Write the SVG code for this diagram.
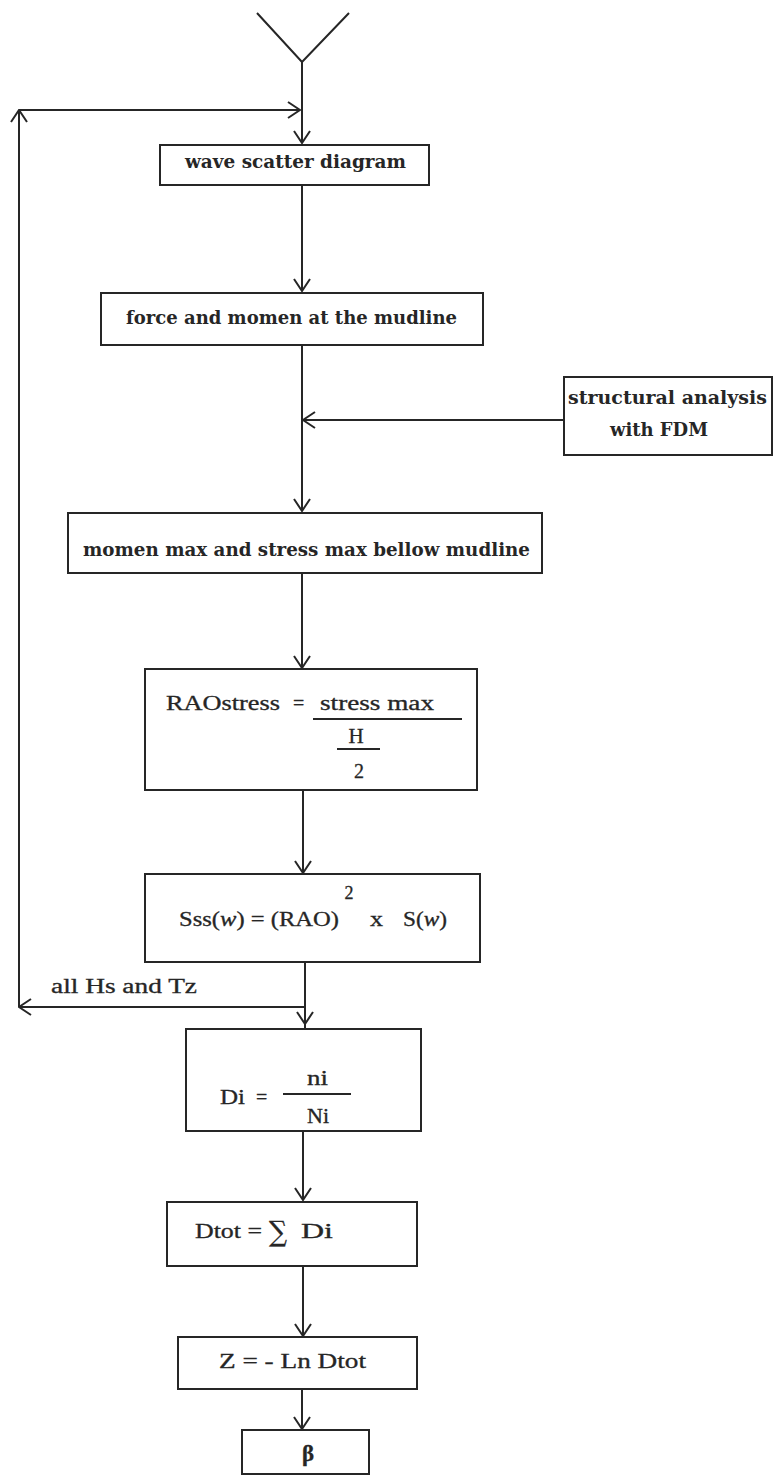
<svg xmlns="http://www.w3.org/2000/svg" width="774" height="1478" viewBox="0 0 774 1478">
  <defs>
    <style>
      .box { fill: #ffffff; stroke: #262626; stroke-width: 2; }
      .wire { fill: none; stroke: #262626; stroke-width: 2; }
      .lbl { font-family: "DejaVu Serif", "Liberation Serif", serif; font-weight: bold; font-size: 18px; fill: #262626; }
      .eq { font-family: "Liberation Serif", "DejaVu Serif", serif; font-size: 20px; fill: #262626; stroke: #262626; stroke-width: 0.3; }
      .frac { stroke: #262626; stroke-width: 2; }
    </style>
    <marker id="arrow" viewBox="0 0 14 18" markerWidth="14" markerHeight="18" refX="13" refY="9" orient="auto" markerUnits="userSpaceOnUse">
      <path d="M1,1 L13,9 L1,17" fill="none" stroke="#262626" stroke-width="2"/>
    </marker>
  </defs>
  <rect width="774" height="1478" fill="#ffffff"/>

  <g id="connectors">
    <!-- inlet funnel -->
    <polyline class="wire" points="257,13 302,62 349,13"/>
    <line class="wire" x1="302" y1="62" x2="302" y2="143" marker-end="url(#arrow)"/>
    <!-- return loop over all Hs and Tz -->
    <line class="wire" x1="305" y1="1007" x2="19" y2="1007" marker-end="url(#arrow)"/>
    <line class="wire" x1="19" y1="1007" x2="19" y2="110" marker-end="url(#arrow)"/>
    <line class="wire" x1="19" y1="110" x2="300" y2="110" marker-end="url(#arrow)"/>
    <!-- main flow -->
    <line class="wire" x1="302" y1="185" x2="302" y2="291" marker-end="url(#arrow)"/>
    <line class="wire" x1="302" y1="345" x2="302" y2="511" marker-end="url(#arrow)"/>
    <line class="wire" x1="564" y1="420" x2="303" y2="420" marker-end="url(#arrow)"/>
    <line class="wire" x1="302" y1="573" x2="302" y2="668" marker-end="url(#arrow)"/>
    <line class="wire" x1="303" y1="790" x2="303" y2="873" marker-end="url(#arrow)"/>
    <line class="wire" x1="305" y1="962" x2="305" y2="1024" marker-end="url(#arrow)"/>
    <line class="wire" x1="305" y1="1024" x2="305" y2="1029"/>
    <line class="wire" x1="303" y1="1131" x2="303" y2="1200" marker-end="url(#arrow)"/>
    <line class="wire" x1="303" y1="1266" x2="303" y2="1336" marker-end="url(#arrow)"/>
    <line class="wire" x1="302" y1="1389" x2="302" y2="1429" marker-end="url(#arrow)"/>
    <text class="eq" x="51" y="993" textLength="146" lengthAdjust="spacingAndGlyphs">all Hs and Tz</text>
  </g>

  <g id="wave-scatter">
    <rect class="box" x="160" y="145" width="269" height="40"/>
    <text class="lbl" x="185" y="168" textLength="221" lengthAdjust="spacingAndGlyphs">wave scatter diagram</text>
  </g>

  <g id="force-momen">
    <rect class="box" x="101" y="293" width="382" height="52"/>
    <text class="lbl" x="126" y="324" textLength="331" lengthAdjust="spacingAndGlyphs">force and momen at the mudline</text>
  </g>

  <g id="structural-analysis">
    <rect class="box" x="564" y="377" width="208" height="78"/>
    <text class="lbl" x="568" y="404" textLength="199" lengthAdjust="spacingAndGlyphs">structural analysis</text>
    <text class="lbl" x="610" y="436" textLength="98" lengthAdjust="spacingAndGlyphs">with FDM</text>
  </g>

  <g id="momen-stress-max">
    <rect class="box" x="68" y="513" width="474" height="60"/>
    <text class="lbl" x="83" y="556" textLength="447" lengthAdjust="spacingAndGlyphs">momen max and stress max bellow mudline</text>
  </g>

  <g id="rao-stress">
    <rect class="box" x="145" y="669" width="332" height="121"/>
    <text class="eq" x="166" y="710" textLength="114" lengthAdjust="spacingAndGlyphs">RAOstress</text>
    <text class="eq" x="293" y="710">=</text>
    <text class="eq" x="320" y="710" textLength="114" lengthAdjust="spacingAndGlyphs">stress max</text>
    <line class="frac" x1="313" y1="719" x2="462" y2="719"/>
    <text class="eq" x="356" y="743" text-anchor="middle" style="font-size:21px">H</text>
    <line class="frac" x1="337" y1="749" x2="380" y2="749"/>
    <text class="eq" x="359" y="778" text-anchor="middle">2</text>
  </g>

  <g id="stress-spectrum">
    <rect class="box" x="145" y="874" width="335" height="88"/>
    <text class="eq" x="179" y="926" textLength="160" lengthAdjust="spacingAndGlyphs">Sss(<tspan font-style="italic">w</tspan>) = (RAO)</text>
    <text class="eq" x="349" y="899" text-anchor="middle" style="font-size:18px">2</text>
    <text class="eq" x="370" y="926" textLength="13" lengthAdjust="spacingAndGlyphs">x</text>
    <text class="eq" x="403" y="926" textLength="44" lengthAdjust="spacingAndGlyphs">S(<tspan font-style="italic">w</tspan>)</text>
  </g>

  <g id="damage-ratio">
    <rect class="box" x="186" y="1029" width="235" height="102"/>
    <text class="eq" x="220" y="1104" textLength="25" lengthAdjust="spacingAndGlyphs">Di</text>
    <text class="eq" x="256" y="1104">=</text>
    <text class="eq" x="307" y="1085" textLength="21" lengthAdjust="spacingAndGlyphs">ni</text>
    <line class="frac" x1="283" y1="1094" x2="351" y2="1094"/>
    <text class="eq" x="307" y="1123" textLength="22" lengthAdjust="spacingAndGlyphs">Ni</text>
  </g>

  <g id="total-damage">
    <rect class="box" x="167" y="1202" width="250" height="64"/>
    <text class="eq" x="195" y="1238" textLength="67" lengthAdjust="spacingAndGlyphs">Dtot =</text>
    <text class="eq" x="269" y="1241" style="font-size:28px; font-family:'DejaVu Serif', serif" textLength="18" lengthAdjust="spacingAndGlyphs">∑</text>
    <text class="eq" x="301" y="1238" textLength="32" lengthAdjust="spacingAndGlyphs">Di</text>
  </g>

  <g id="limit-state">
    <rect class="box" x="178" y="1337" width="239" height="52"/>
    <text class="eq" x="219" y="1368" textLength="147" lengthAdjust="spacingAndGlyphs">Z = - Ln Dtot</text>
  </g>

  <g id="reliability-index">
    <rect class="box" x="242" y="1430" width="127" height="44"/>
    <text class="eq" x="308" y="1461" text-anchor="middle" style="font-size:23px; font-weight:bold">β</text>
  </g>
</svg>
